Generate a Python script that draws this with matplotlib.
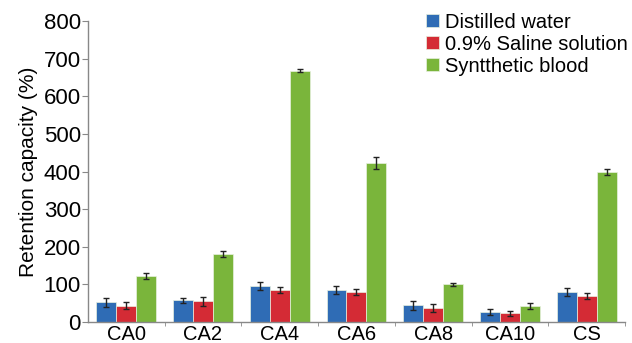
import numpy as np
import matplotlib
matplotlib.use('Agg')
import matplotlib.pyplot as plt
from matplotlib.ticker import FixedLocator

plt.rcParams['font.family'] = ['Liberation Sans', 'DejaVu Sans']

samples = ['CA0', 'CA2', 'CA4', 'CA6', 'CA8', 'CA10', 'CS']
water = [53, 58, 96, 85, 45, 27, 80]
water_err = [12, 6, 11, 10, 12, 7, 10]
saline = [44, 55, 85, 80, 38, 23, 69]
saline_err = [10, 12, 9, 8, 10, 7, 8]
blood = [122, 181, 669, 424, 100, 44, 399]
blood_err = [8, 8, 4, 16, 3, 8, 8]

series = [
    ('Distilled water', water, water_err, '#2f6cb5'),
    ('0.9% Saline solution', saline, saline_err, '#d42b35'),
    ('Syntthetic blood', blood, blood_err, '#7ab53b'),
]

fig = plt.figure(figsize=(6.32, 3.43), dpi=100)
ax = fig.add_axes([0.139, 0.061, 0.850, 0.877])

x = np.arange(len(samples))
w = 0.26
for i, (name, vals, errs, col) in enumerate(series):
    ax.bar(x + (i - 1) * w, vals, w, yerr=errs, color=col, label=name,
           edgecolor='#e8f0e0', linewidth=0.5, zorder=2,
           error_kw=dict(ecolor='#222222', elinewidth=1.0, capsize=2.5, capthick=1.0))

ax.set_xlim(-0.5, len(samples) - 0.5)
ax.set_ylim(0, 800)
ax.set_yticks(range(0, 801, 100))
ax.set_xticks(x)
ax.set_xticklabels(samples)
ax.xaxis.set_minor_locator(FixedLocator(np.arange(0.5, len(samples), 1.0)))
ax.tick_params(axis='x', which='major', length=0, labelsize=14.5, pad=2)
ax.tick_params(axis='x', which='minor', length=3, direction='out', color='#888888')
ax.tick_params(axis='y', length=4, direction='out', color='#888888', labelsize=16, pad=1)

for s in ['top', 'right']:
    ax.spines[s].set_visible(False)
for s in ['left', 'bottom']:
    ax.spines[s].set_color('#888888')
    ax.spines[s].set_linewidth(1.0)

ax.set_ylabel('Retention capacity (%)', fontsize=15, labelpad=4)

ax.legend(loc='upper left', bbox_to_anchor=(0.615, 1.055), frameon=False,
          fontsize=14.5, handlelength=0.65, handleheight=0.65, handletextpad=0.3,
          labelspacing=0.15, borderaxespad=0)

fig.savefig('out.png', dpi=100)
